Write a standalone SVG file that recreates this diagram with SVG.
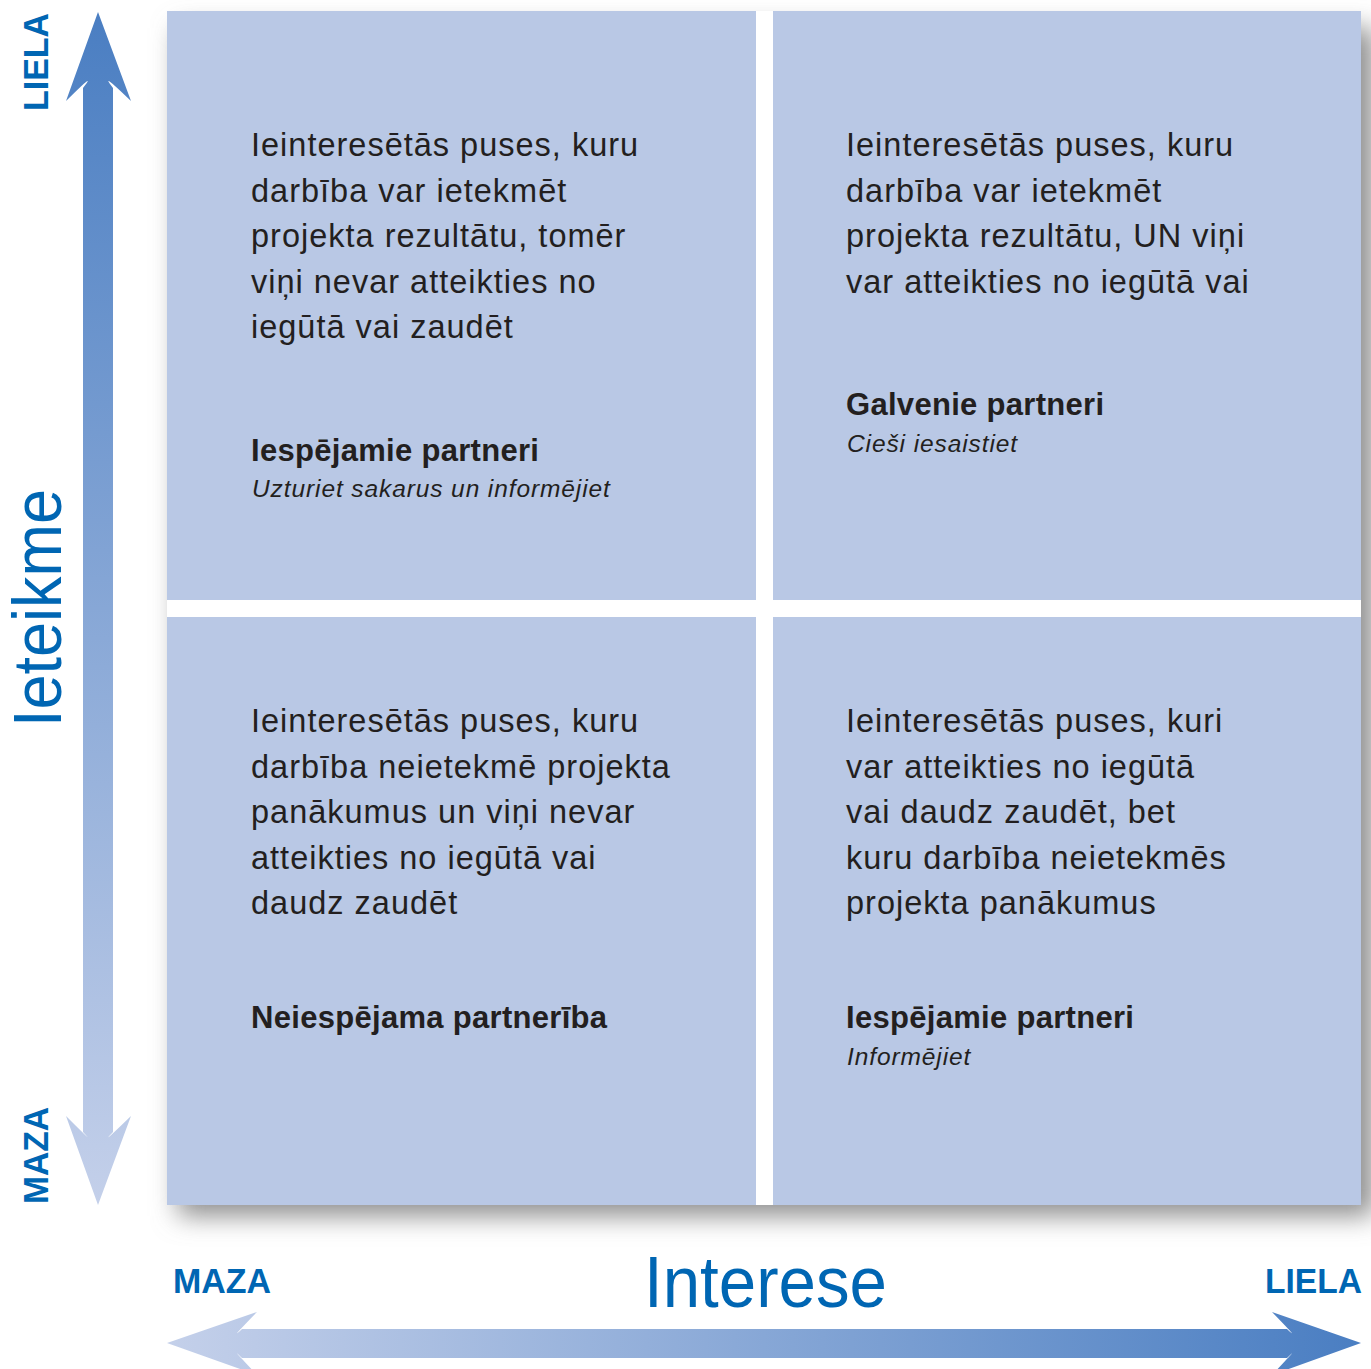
<svg xmlns="http://www.w3.org/2000/svg" width="1371" height="1369" viewBox="0 0 1371 1369">
<defs>
<style>
.q{fill:#B9C8E5}
.body{font-family:"Liberation Sans",Arial,sans-serif;font-size:32.5px;fill:#231F20;letter-spacing:1px}
.bold{font-family:"Liberation Sans",Arial,sans-serif;font-size:31px;font-weight:bold;fill:#231F20;letter-spacing:0.3px}
.ital{font-family:"Liberation Sans",Arial,sans-serif;font-size:24.5px;font-style:italic;fill:#231F20;letter-spacing:0.9px}
.ax{font-family:"Liberation Sans",Arial,sans-serif;fill:#0066B3}
.axb{font-family:"Liberation Sans",Arial,sans-serif;fill:#0066B3;font-weight:bold;font-size:35px}
</style>
<filter id="sh" x="-10%" y="-10%" width="120%" height="120%">
<feGaussianBlur stdDeviation="13"/>
</filter>
<linearGradient id="gv" gradientUnits="userSpaceOnUse" x1="0" y1="12" x2="0" y2="1205">
<stop offset="0" stop-color="#4A7EC2"/>
<stop offset="1" stop-color="#C4D0EA"/>
</linearGradient>
<linearGradient id="gh" gradientUnits="userSpaceOnUse" x1="167" y1="0" x2="1361" y2="0">
<stop offset="0" stop-color="#C4D0EA"/>
<stop offset="1" stop-color="#4A7EC2"/>
</linearGradient>
</defs>
<rect width="1371" height="1369" fill="#FFFFFF"/>
<rect x="178" y="28" width="1196" height="1188" fill="#8E8E8E" filter="url(#sh)"/>
<rect x="167" y="11" width="1194" height="1194" fill="#FFFFFF"/>

<g id="q-top-left">
<rect class="q" x="167" y="11" width="589" height="589"/>
<text class="body" x="251" y="156">Ieinteresētās puses, kuru</text>
<text class="body" x="251" y="201.5">darbība var ietekmēt</text>
<text class="body" x="251" y="247">projekta rezultātu, tomēr</text>
<text class="body" x="251" y="292.5">viņi nevar atteikties no</text>
<text class="body" x="251" y="338">iegūtā vai zaudēt</text>
<text class="bold" x="251" y="461">Iespējamie partneri</text>
<text class="ital" x="252" y="497">Uzturiet sakarus un informējiet</text>
</g>

<g id="q-top-right">
<rect class="q" x="773" y="11" width="588" height="589"/>
<text class="body" x="846" y="156">Ieinteresētās puses, kuru</text>
<text class="body" x="846" y="201.5">darbība var ietekmēt</text>
<text class="body" x="846" y="247">projekta rezultātu, UN viņi</text>
<text class="body" x="846" y="292.5">var atteikties no iegūtā vai</text>
<text class="bold" x="846" y="415">Galvenie partneri</text>
<text class="ital" x="847" y="452">Cieši iesaistiet</text>
</g>

<g id="q-bottom-left">
<rect class="q" x="167" y="617" width="589" height="588"/>
<text class="body" x="251" y="732">Ieinteresētās puses, kuru</text>
<text class="body" x="251" y="777.5">darbība neietekmē projekta</text>
<text class="body" x="251" y="823">panākumus un viņi nevar</text>
<text class="body" x="251" y="868.5">atteikties no iegūtā vai</text>
<text class="body" x="251" y="914">daudz zaudēt</text>
<text class="bold" x="251" y="1028">Neiespējama partnerība</text>
</g>

<g id="q-bottom-right">
<rect class="q" x="773" y="617" width="588" height="588"/>
<text class="body" x="846" y="732">Ieinteresētās puses, kuri</text>
<text class="body" x="846" y="777.5">var atteikties no iegūtā</text>
<text class="body" x="846" y="823">vai daudz zaudēt, bet</text>
<text class="body" x="846" y="868.5">kuru darbība neietekmēs</text>
<text class="body" x="846" y="914">projekta panākumus</text>
<text class="bold" x="846" y="1028">Iespējamie partneri</text>
<text class="ital" x="847" y="1065">Informējiet</text>
</g>

<g id="axes">
<path id="axis-vertical" fill="url(#gv)" d="M98,12 L131,101 Q98,69 113,88 L113,1132 Q98,1148 131,1116 L98,1205 L66,1116 Q98,1148 83,1132 L83,88 Q98,69 66,101 Z"/>
<path id="axis-horizontal" fill="url(#gh)" d="M167,1343 L257,1312 Q227,1343 242,1329 L1287,1329 Q1302,1343 1272,1312 L1361,1343 L1272,1375 Q1302,1343 1287,1358 L242,1358 Q227,1343 257,1375 Z"/>
</g>

<g id="axis-labels">
<text class="ax" font-size="68" transform="translate(61,727) rotate(-90)" textLength="238" lengthAdjust="spacingAndGlyphs">Ieteikme</text>
<text class="axb" transform="translate(48,111) rotate(-90)" textLength="98" lengthAdjust="spacingAndGlyphs">LIELA</text>
<text class="axb" transform="translate(48,1204) rotate(-90)" textLength="97" lengthAdjust="spacingAndGlyphs">MAZA</text>
<text class="ax" font-size="72" x="644" y="1307" textLength="243" lengthAdjust="spacingAndGlyphs">Interese</text>
<text class="axb" x="173" y="1293" textLength="98" lengthAdjust="spacingAndGlyphs">MAZA</text>
<text class="axb" x="1265" y="1293" textLength="97" lengthAdjust="spacingAndGlyphs">LIELA</text>
</g>
</svg>
